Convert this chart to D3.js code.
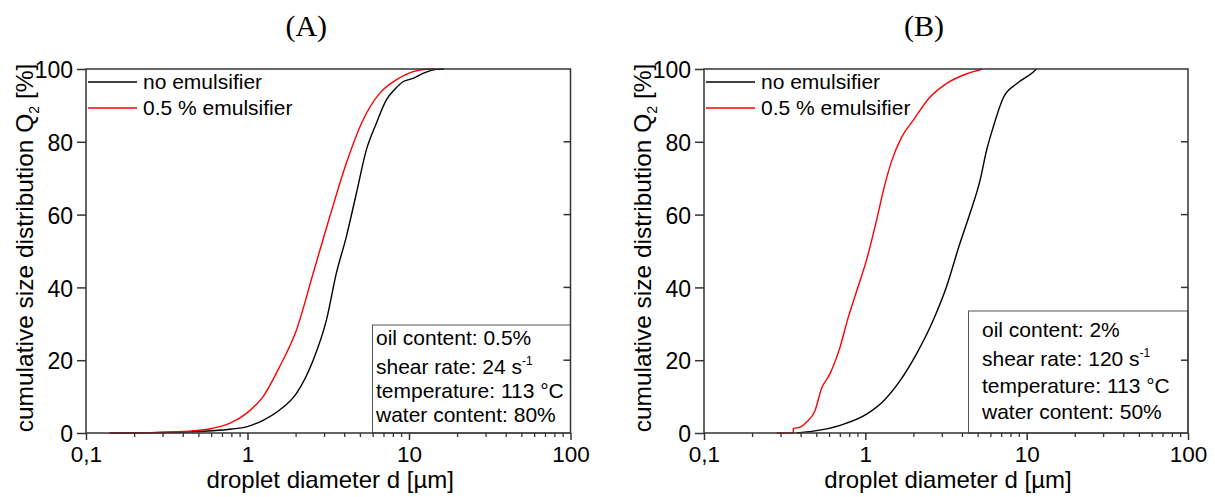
<!DOCTYPE html>
<html>
<head>
<meta charset="utf-8">
<script src="https://cdn.jsdelivr.net/npm/d3@7"></script>
<style>
  body { margin: 0; background: #fff; }
  svg { display: block; font-family: "Liberation Sans", Arial, sans-serif; }
</style>
</head>
<body>
<svg id="svg" width="1215" height="497"></svg>
<script>
const $svg = d3.select('#svg')

// data: [diameter in µm, Q2 in %]
const aNoEmulsifier = [
	[0.14, 0], [0.25, 0.05], [0.38, 0.2], [0.61, 0.6], [0.8, 1.1], [0.985, 1.7], [1.25, 3.5], [1.58, 6.3],
	[2.01, 10.9], [2.55, 20], [3.08, 31], [3.55, 43.9], [4.09, 53.9], [4.72, 65.8],
	[5.44, 77.7], [6.28, 85.1], [7.24, 91.5], [8.2, 94.5], [9.17, 96.5], [10.6, 97.4],
	[12.2, 98.8], [14.8, 99.9], [16.5, 100]
]
const aEmulsifier = [
	[0.14, 0], [0.25, 0.1], [0.4, 0.4], [0.61, 1.3], [0.78, 2.7], [0.985, 5.4], [1.249, 10],
	[1.58, 18.2], [2.01, 28.3], [2.55, 43.9], [3.23, 59.4], [4.09, 74.1], [5.19, 86],
	[6.58, 93.3], [8.34, 97], [10.6, 99.3], [13.4, 100], [14.5, 100]
]
const bNoEmulsifier = [
	[0.376, 0], [0.476, 0.5], [0.697, 2.1], [1.03, 5.3], [1.31, 9], [1.65, 14.5], [2.08, 21.8],
	[2.63, 30.9], [3.18, 40.1], [3.85, 52], [4.45, 60.3], [5.14, 69.4], [5.64, 77.6],
	[6.2, 84], [7.2, 92.3], [8.7, 96], [11, 99.2], [11.5, 100]
]
const bEmulsifier = [
	[0.282, 0], [0.358, 0], [0.358, 1.2], [0.394, 1.6], [0.433, 3], [0.488, 6.2], [0.535, 12.2],
	[0.604, 16.3], [0.697, 23.6], [0.785, 31.9], [0.887, 39.2], [1.03, 48.4], [1.16, 57.5],
	[1.31, 67.6], [1.46, 74.9], [1.68, 81.3], [1.98, 85.9], [2.52, 92.3], [3.18, 96],
	[4.26, 98.7], [5.14, 99.8], [5.3, 100]
]

const seriesNames = ['no emulsifier', '0.5 % emulsifier']
const seriesColors = ['#000000', '#ff0000']
const xTicks = [0.1, 1, 10, 100]
const xTickLabels = ['0,1', '1', '10', '100']
const yTicks = [0, 20, 40, 60, 80, 100]
const infoA = ['oil content: 0.5%', 'shear rate: 24 s', 'temperature: 113 °C', 'water content: 80%']
const infoB = ['oil content: 2%', 'shear rate: 120 s', 'temperature: 113 °C', 'water content: 50%']

const panels = [
	{ title: '(A)', left: 86, right: 570.5, series: [aNoEmulsifier, aEmulsifier], info: infoA,
		box: { x: 372.5, y: 325, lineX: 376, baselines: [345, 373.5, 398, 422] } },
	{ title: '(B)', left: 704, right: 1188, series: [bNoEmulsifier, bEmulsifier], info: infoB,
		box: { x: 968.5, y: 311, lineX: 982, baselines: [337, 366, 392.5, 419] } },
]
const TOP = 69
const BOTTOM = 433
const AXIS = '#333'

const minorTicks = []
;[0.1, 1, 10].forEach(base => {
	for (let k = 2; k <= 9; k++) minorTicks.push(base * k)
})

panels.forEach(p => {
	const x = d3.scaleLog().domain([0.1, 100]).range([p.left, p.right])
	const y = d3.scaleLinear().domain([0, 100]).range([BOTTOM, TOP])
	const g = $svg.append('g')

	// panel title
	g.append('text')
		.attr('x', (p.left + p.right) / 2 - 22)
		.attr('y', 36)
		.attr('text-anchor', 'middle')
		.attr('font-family', '"Liberation Serif", "Times New Roman", serif')
		.attr('font-size', 30)
		.text(p.title)

	// curves
	const line = d3.line()
		.x(d => x(d[0]))
		.y(d => y(d[1]))
		.curve(d3.curveMonotoneX)
	p.series.forEach((s, i) => {
		g.append('path')
			.attr('d', line(s))
			.attr('fill', 'none')
			.attr('stroke', seriesColors[i])
			.attr('stroke-width', 1.4)
	})

	// info box
	g.append('rect')
		.attr('x', p.box.x)
		.attr('y', p.box.y)
		.attr('width', p.right - p.box.x)
		.attr('height', BOTTOM - p.box.y)
		.attr('fill', '#fff')
		.attr('stroke', '#555')
		.attr('stroke-width', 1)
	p.info.forEach((t, i) => {
		const txt = g.append('text')
			.attr('x', p.box.lineX)
			.attr('y', p.box.baselines[i])
			.attr('font-size', 21)
			.text(t)
		if (i === 1) {
			txt.append('tspan').attr('dy', -9).attr('font-size', 12).text('-1')
		}
	})

	// frame
	g.append('rect')
		.attr('x', p.left)
		.attr('y', TOP)
		.attr('width', p.right - p.left)
		.attr('height', BOTTOM - TOP)
		.attr('fill', 'none')
		.attr('stroke', AXIS)
		.attr('stroke-width', 1.5)

	// x axis
	const xAxis = g.append('g').attr('transform', `translate(0,${BOTTOM})`)
		.call(d3.axisBottom(x).tickValues(xTicks).tickSize(7).tickPadding(6)
			.tickFormat((d, i) => xTickLabels[i]))
	xAxis.select('.domain').remove()
	xAxis.selectAll('line').attr('stroke', AXIS).attr('stroke-width', 1.5)
	xAxis.selectAll('text').attr('font-size', 22.5).attr('fill', '#000')
		.attr('font-family', '"Liberation Sans", Arial, sans-serif')
	g.append('g').selectAll('line').data(minorTicks).join('line')
		.attr('x1', d => x(d)).attr('x2', d => x(d))
		.attr('y1', BOTTOM).attr('y2', BOTTOM + 4)
		.attr('stroke', AXIS).attr('stroke-width', 1.3)

	// y axis
	const yAxis = g.append('g').attr('transform', `translate(${p.left},0)`)
		.call(d3.axisLeft(y).tickValues(yTicks).tickSize(9).tickPadding(4))
	yAxis.select('.domain').remove()
	yAxis.selectAll('line').attr('stroke', AXIS).attr('stroke-width', 1.5)
	yAxis.selectAll('text').attr('font-size', 23).attr('fill', '#000').attr('dy', '0.38em')
		.attr('font-family', '"Liberation Sans", Arial, sans-serif')
	// inner ticks on the right side
	g.append('g').selectAll('line').data(yTicks.slice(1, -1)).join('line')
		.attr('x1', p.right - 7).attr('x2', p.right)
		.attr('y1', d => y(d)).attr('y2', d => y(d))
		.attr('stroke', AXIS).attr('stroke-width', 1.5)

	// axis titles
	g.append('text')
		.attr('x', (p.left + p.right) / 2 + 2)
		.attr('y', 488)
		.attr('text-anchor', 'middle')
		.attr('font-size', 24)
		.text('droplet diameter d [µm]')
	const yt = g.append('text')
		.attr('transform', `translate(${p.left - 53},${(TOP + BOTTOM) / 2 - 3}) rotate(-90)`)
		.attr('text-anchor', 'middle')
		.attr('font-size', 24.5)
	yt.append('tspan').text('cumulative size distribution Q')
	yt.append('tspan').attr('dy', 6).attr('font-size', 14).text('2')
	yt.append('tspan').attr('dy', -6).text(' [%]')

	// legend
	p.series.forEach((s, i) => {
		const ly = 82 + i * 26
		g.append('line')
			.attr('x1', p.left + 2).attr('x2', p.left + 51)
			.attr('y1', ly).attr('y2', ly)
			.attr('stroke', seriesColors[i]).attr('stroke-width', 1.4)
		g.append('text')
			.attr('x', p.left + 57)
			.attr('y', ly + 7)
			.attr('font-size', 21)
			.text(seriesNames[i])
	})
})
</script>
</body>
</html>
